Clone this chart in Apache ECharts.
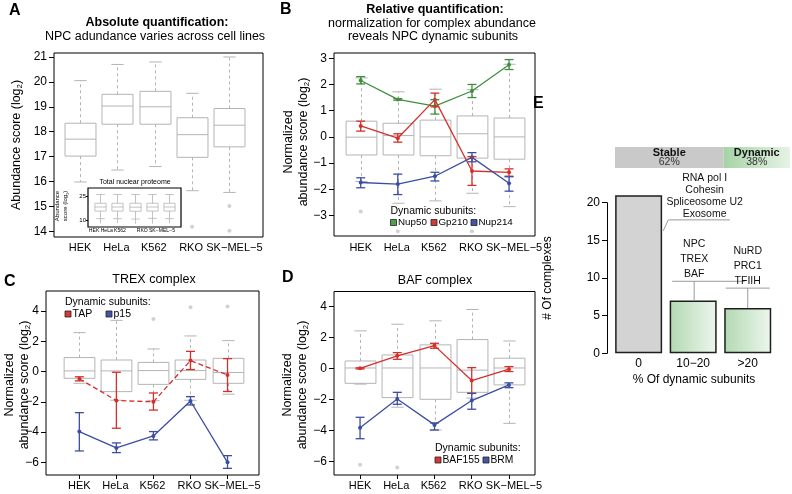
<!DOCTYPE html>
<html><head><meta charset="utf-8">
<script src="https://cdn.jsdelivr.net/npm/echarts@6/dist/echarts.min.js"></script>
<style>html,body{margin:0;padding:0;background:#fff}#c{width:792px;height:494px}</style>
</head><body><div id="c"></div>
<script>
// ---------------- DATA ----------------
const cellLines = ['HEK', 'HeLa', 'K562', 'RKO', 'SK−MEL−5'];

// Panel A: absolute NPC abundance (log2)
const aLow  = [15.98, 16.46, 16.60, 15.63, 15.56];
const aQ1   = [17.02, 18.30, 18.30, 16.97, 17.39];
const aMed  = [17.70, 19.03, 19.00, 17.88, 18.26];
const aQ3   = [18.34, 19.50, 19.62, 18.56, 18.93];
const aHigh = [20.05, 20.70, 20.80, 19.54, 21.00];
const aOutliers = [[4, 14.18], [5, 15.02], [5, 14.02]];
const aTicks = [14, 15, 16, 17, 18, 19, 20, 21];

// Panel A inset: total nuclear proteome
const insetLow  = [11.05, 11.05, 10.8, 11.2, 11.05];
const insetQ1   = [15.7, 15.7, 15.6, 15.7, 15.7];
const insetMed  = [18.2, 18.2, 18.1, 18.2, 18.2];
const insetQ3   = [20.5, 20.5, 20.5, 20.5, 20.5];
const insetHigh = [25.9, 25.9, 25.9, 25.9, 25.9];
const insetTail = [8.3, 8.3, 7.9, 8.0, 8.3];
const insetTicks = [10, 25];

// Panel B: normalized NPC
const bLow  = [-1.70, -2.53, -2.44, -2.15, -2.66];
const bQ1   = [-0.69, -0.69, -0.72, -0.81, -0.85];
const bMed  = [-0.01, 0.05, 0.00, 0.12, 0.00];
const bQ3   = [0.60, 0.52, 0.64, 0.80, 0.72];
const bHigh = [2.25, 1.72, 1.82, 1.80, 2.77];
const bOutliers = [[1, -2.85], [2, -3.6], [4, -3.6]];
const bTicks = [-3, -2, -1, 0, 1, 2, 3];
const nup50   = [2.15, 1.43, 1.17, 1.75, 2.75];
const nup50Lo = [2.02, 1.40, 0.87, 1.50, 2.57];
const nup50Hi = [2.30, 1.46, 1.42, 2.00, 2.95];
const gp210   = [0.42, -0.05, 1.42, -1.30, -1.35];
const gp210Lo = [0.22, -0.20, 1.15, -1.85, -1.50];
const gp210Hi = [0.60, 0.12, 1.67, -0.75, -1.22];
const nup214   = [-1.74, -1.80, -1.50, -0.78, -1.77];
const nup214Lo = [-1.94, -2.20, -1.68, -0.95, -2.07];
const nup214Hi = [-1.56, -1.42, -1.35, -0.60, -1.52];

// Panel C: TREX complex
const cLow  = [-0.78, -1.90, -1.93, -1.90, -1.50];
const cQ1   = [-0.45, -1.33, -0.85, -0.52, -0.78];
const cMed  = [0.04, 0.04, 0.06, 0.06, -0.07];
const cQ3   = [0.92, 0.76, 0.60, 0.76, 0.87];
const cHigh = [2.57, 3.38, 1.49, 2.35, 2.04];
const cOutliers = [[3, 3.47], [4, 4.24], [5, 4.29]];
const cdTicks = [-6, -4, -2, 0, 2, 4];
const tap   = [-0.48, -1.92, -2.00, 0.72, -0.23];
const tapLo = [-0.62, -3.75, -2.55, 0.13, -1.32];
const tapHi = [-0.35, -0.05, -1.42, 1.33, 0.85];
const p15   = [-3.97, -5.05, -4.26, -1.95, -6.00];
const p15Lo = [-5.25, -5.36, -4.52, -2.21, -6.40];
const p15Hi = [-2.72, -4.72, -3.97, -1.66, -5.56];

// Panel D: BAF complex
const dLow  = [-1.00, -2.49, -3.96, -1.90, -3.53];
const dQ1   = [-0.95, -1.87, -1.98, -1.53, -1.05];
const dMed  = [0.04, 0.04, 0.04, -0.10, 0.04];
const dQ3   = [0.49, 0.88, 1.53, 1.87, 0.67];
const dHigh = [2.43, 2.86, 3.08, 3.81, 1.78];
const dOutliers = [[1, -6.2], [2, -6.37]];
const baf155   = [0.02, 0.82, 1.48, -0.77, -0.04];
const baf155Lo = [-0.02, 0.60, 1.31, -1.60, -0.19];
const baf155Hi = [0.05, 1.03, 1.63, 0.06, 0.13];
const brm   = [-3.81, -1.96, -3.63, -2.06, -1.05];
const brmLo = [-4.52, -2.30, -3.96, -2.62, -1.23];
const brmHi = [-3.14, -1.53, -3.50, -1.59, -0.92];

// Panel E
const eCategories = ['0', '10−20', '>20'];
const eCounts = [21, 7, 6];
const eExamples = ['RNA pol I\nCohesin\nSpliceosome U2\nExosome', 'NPC\nTREX\nBAF', 'NuRD\nPRC1\nTFIIH'];
const eShareNames = ['Stable', 'Dynamic'];
const eShares = [62, 38];

// ---------------- STYLE ----------------
const FONT = "'Liberation Sans', Arial, Helvetica, sans-serif";
const BOXC = '#b4b4b4';
const GREEN = '#3f8f3f', RED = '#d3302c', BLUE = '#3b4ea2';
const GREY_DOT = '#c6c6c6';
const minusFmt = v => (v < 0 ? '−' + Math.abs(v) : String(v));
// pixel nudges of the category labels (style only)
const mainLabelShift = [0, -1, -1, -1, 5];
const insetLabelShift = [-6, -10.5, -14.5, -9.5, -7];

// ---------------- HELPERS ----------------
const boxData = (lo, q1, md, q3, hi, tail) => lo.map((v, i) => tail ? [i + 1, v, q1[i], md[i], q3[i], hi[i], tail[i]] : [i + 1, v, q1[i], md[i], q3[i], hi[i]]);
const errData = (lo, hi) => lo.map((v, i) => [i + 1, v, hi[i]]);
const lineData = vals => vals.map((v, i) => [i + 1, v]);

function boxRender(boxFrac, capFrac, dashed, lw) {
  return function (params, api) {
    const x = api.value(0);
    const pLow = api.coord([x, api.value(1)]);
    const pQ1 = api.coord([x, api.value(2)]);
    const pMed = api.coord([x, api.value(3)]);
    const pQ3 = api.coord([x, api.value(4)]);
    const pHigh = api.coord([x, api.value(5)]);
    const unit = api.size([1, 0])[0];
    const bw = unit * boxFrac / 2, cw = unit * capFrac / 2, cx = Math.round(pMed[0]) + 0.5;
    const solid = { stroke: BOXC, lineWidth: lw, fill: null };
    const wl = { stroke: BOXC, lineWidth: lw, lineDash: dashed ? [3, 3] : null };
    const kids = [
      { type: 'line', shape: { x1: cx, y1: pQ3[1], x2: cx, y2: pHigh[1] }, style: wl },
      { type: 'line', shape: { x1: cx, y1: pQ1[1], x2: cx, y2: pLow[1] }, style: wl },
      { type: 'line', shape: { x1: cx - cw, y1: pHigh[1], x2: cx + cw, y2: pHigh[1] }, style: solid },
      { type: 'line', shape: { x1: cx - cw, y1: pLow[1], x2: cx + cw, y2: pLow[1] }, style: solid },
      { type: 'rect', shape: { x: cx - bw, y: pQ3[1], width: 2 * bw, height: pQ1[1] - pQ3[1] }, style: { stroke: BOXC, lineWidth: lw, fill: 'rgba(255,255,255,0)' } },
      { type: 'line', shape: { x1: cx - bw, y1: pMed[1], x2: cx + bw, y2: pMed[1] }, style: solid }
    ];
    const t = api.value(6);
    if (typeof t === 'number' && isFinite(t)) {
      const pT = api.coord([x, t]);
      kids.push({ type: 'line', shape: { x1: cx, y1: pLow[1], x2: cx, y2: pT[1] }, style: solid });
    }
    return { type: 'group', children: kids };
  };
}

function errRender(color, capPx) {
  return function (params, api) {
    const x = api.value(0);
    const lo = api.coord([x, api.value(1)]);
    const hi = api.coord([x, api.value(2)]);
    const cx = lo[0], c = capPx / 2;
    const st = { stroke: color, lineWidth: 1.3 };
    return { type: 'group', children: [
      { type: 'line', shape: { x1: cx, y1: lo[1], x2: cx, y2: hi[1] }, style: st },
      { type: 'line', shape: { x1: cx - c, y1: lo[1], x2: cx + c, y2: lo[1] }, style: st },
      { type: 'line', shape: { x1: cx - c, y1: hi[1], x2: cx + c, y2: hi[1] }, style: st }
    ] };
  };
}

// category labels drawn at the axis positions of the categories
function labelSeries(gi, yMin, fs, gap, shifts) {
  return { type: 'custom', xAxisIndex: gi, yAxisIndex: gi, silent: true, z: 3, animation: false,
    data: cellLines.map((c, i) => [i + 1]),
    renderItem: function (params, api) {
      const i = params.dataIndex;
      const p = api.coord([api.value(0), yMin]);
      return { type: 'text', style: { text: cellLines[i], x: p[0] + shifts[i], y: p[1] + gap, fill: '#000', fontSize: fs, fontFamily: FONT,
        align: 'center', verticalAlign: 'middle', textAlign: 'center', textVerticalAlign: 'middle' } };
    } };
}

function xAx(gi, min, max, tickLen) {
  return { type: 'value', gridIndex: gi, min, max, axisLine: { show: false, onZero: false }, splitLine: { show: false },
    axisTick: { show: tickLen > 0, customValues: [1, 2, 3, 4, 5], length: tickLen, lineStyle: { color: '#000' } },
    axisLabel: { show: false } };
}
function yAx(gi, min, max, vals, fs, margin, tickLen) {
  return { type: 'value', gridIndex: gi, min, max, axisLine: { show: false, onZero: false }, splitLine: { show: false },
    axisTick: { show: true, customValues: vals, length: tickLen, lineStyle: { color: '#000' } },
    axisLabel: { customValues: vals, formatter: minusFmt, fontSize: fs, color: '#000', fontFamily: FONT, margin, hideOverlap: false, showMinLabel: true, showMaxLabel: true } };
}
const frame = (left, top, width, height, bw) => ({ left, top, width, height, show: true, borderColor: '#000', borderWidth: bw, backgroundColor: 'rgba(0,0,0,0)', containLabel: false });

function lineSeries(name, vals, color, gi, dashed) {
  return { type: 'line', name, xAxisIndex: gi, yAxisIndex: gi, data: lineData(vals), z: 5,
    symbol: 'circle', symbolSize: 4, itemStyle: { color }, lineStyle: { color, width: 1.3, type: dashed ? [5, 3] : 'solid' }, animation: false };
}
function errSeries(lo, hi, color, gi) {
  return { type: 'custom', xAxisIndex: gi, yAxisIndex: gi, data: errData(lo, hi), renderItem: errRender(color, 9), z: 6, animation: false };
}
function boxSeries(gi, d, boxFrac, capFrac, dashed, lw) {
  return { type: 'custom', xAxisIndex: gi, yAxisIndex: gi, data: d, renderItem: boxRender(boxFrac, capFrac, dashed, lw), z: 2, animation: false };
}
function outlierSeries(gi, pts) {
  return { type: 'scatter', xAxisIndex: gi, yAxisIndex: gi, data: pts, symbolSize: 4, itemStyle: { color: GREY_DOT }, z: 2, animation: false };
}

// ---------------- TEXT (graphic) ----------------
function txt(text, x, y, size, opt) {
  return Object.assign({ type: 'text', x, y, silent: true, style: Object.assign({ text, fill: '#000', fontSize: size, fontFamily: FONT,
    align: 'center', verticalAlign: 'middle', textAlign: 'center', textVerticalAlign: 'middle' }, (opt && opt.style) || {}) }, (opt && opt.el) || {});
}
function rotTitle(lines, x, y, size) {
  const rich = { n: { fontSize: size, fontFamily: FONT, fill: '#000', lineHeight: size + 2 }, s: { fontSize: size * 0.62, fontFamily: FONT, fill: '#000', verticalAlign: 'bottom', lineHeight: size * 0.62 + 1 } };
  return { type: 'text', x, y, rotation: Math.PI / 2, silent: true,
    style: { text: lines, rich, align: 'center', verticalAlign: 'middle', textAlign: 'center', textVerticalAlign: 'middle' } };
}
function legendItems(items, y, size) {
  const out = [];
  items.forEach(it => {
    out.push({ type: 'rect', shape: { x: it.sx, y: y - 3, width: 6, height: 6 }, style: { fill: it.color, stroke: '#222', lineWidth: 0.8 }, silent: true });
    out.push(txt(it.name, it.sx + 7.5, y, size, { style: { align: 'left', textAlign: 'left' } }));
  });
  return out;
}
const bold = { style: { fontWeight: 'bold' } };
const leftBold = { style: { fontWeight: 'bold', align: 'left', textAlign: 'left' } };
const leftPlain = { style: { align: 'left', textAlign: 'left' } };

const logTitle = '{n|abundance score (log}{s|2}{n|)}';
const graphics = [
  txt('A', 9, 11, 16, leftBold), txt('B', 280, 10, 16, leftBold), txt('C', 4, 282, 16, leftBold),
  txt('D', 282, 278, 16, leftBold), txt('E', 533, 104, 16, leftBold),
  txt('Absolute quantification:', 157, 23, 12.5, bold),
  txt('NPC adundance varies across cell lines', 155, 36.5, 12.5),
  txt('Relative quantification:', 435, 10, 12.5, bold),
  txt('normalization for complex abundance', 432, 24, 12.5),
  txt('reveals NPC dynamic subunits', 433, 37, 12.5),
  txt('TREX complex', 154, 280, 12.5),
  txt('BAF complex', 435, 281, 12.5),
  rotTitle('{n|Abundance score (log}{s|2}{n|)}', 17, 145, 12.5),
  rotTitle('{n|Normalized}\n' + logTitle, 296, 142, 12.5),
  rotTitle('{n|Normalized}\n' + logTitle, 17, 385, 12.5),
  rotTitle('{n|Normalized}\n' + logTitle, 295, 385, 12.5),
  // inset labels
  txt('Total nuclear proteome', 135, 182.5, 7),
  rotTitle('{n|Abundance}\n{n|score (log}{s|2}{n|)}', 61.5, 206, 6),
  // legends
  txt('Dynamic subunits:', 390.5, 211.5, 10.5, leftPlain),
  ...legendItems([{ name: 'Nup50', color: '#4f9f4f', sx: 390.5 }, { name: 'Gp210', color: '#d33a34', sx: 431 }, { name: 'Nup214', color: '#4156a8', sx: 471 }], 222.5, 9.8),
  txt('Dynamic subunits:', 65, 302, 10.5, leftPlain),
  ...legendItems([{ name: 'TAP', color: '#d33a34', sx: 65 }, { name: 'p15', color: '#4156a8', sx: 106 }], 314, 10.5),
  txt('Dynamic subunits:', 435, 448, 10.5, leftPlain),
  ...legendItems([{ name: 'BAF155', color: '#d33a34', sx: 435 }, { name: 'BRM', color: '#4156a8', sx: 483 }], 460, 10.3),
  // E axis titles
  txt('% Of dynamic subunits', 694, 380, 12),
  txt('# Of complexes', 548, 278, 12, { el: { rotation: Math.PI / 2 } })
];

// ---------------- PANEL E annotations ----------------
const eAnnotLayout = [
  { tx: 66, ty: -23, lh: 12, path: [[24.6, 35.7], [29.6, 24.7], [91.3, 24.7]] },
  { tx: 1, ty: -63.5, lh: 15, path: [[1, 0], [1, -19.3]], bar: [-21, 51.5, -19.3] },
  { tx: 0, ty: -64.2, lh: 15, path: [[0, 0], [0, -20]], bar: [-22, 22, -20] }
];
function annotRender(params, api) {
  const i = params.dataIndex;
  const L = eAnnotLayout[i];
  const top = api.coord([api.value(0), api.value(1)]);
  const st = { stroke: '#9a9a9a', lineWidth: 1, fill: null };
  const kids = [
    { type: 'polyline', shape: { points: L.path.map(p => [top[0] + p[0], top[1] + p[1]]) }, style: st },
    { type: 'text', style: { text: eExamples[i], x: top[0] + L.tx, y: top[1] + L.ty, fill: '#111', fontSize: 10.5, fontFamily: FONT,
      align: 'center', verticalAlign: 'top', textAlign: 'center', textVerticalAlign: 'top', lineHeight: L.lh } }
  ];
  if (L.bar) kids.push({ type: 'line', shape: { x1: top[0] + L.bar[0], y1: top[1] + L.bar[2], x2: top[0] + L.bar[1], y2: top[1] + L.bar[2] }, style: st });
  return { type: 'group', children: kids };
}

const greenGrad = { type: 'linear', x: 0, y: 0, x2: 1, y2: 0, colorStops: [{ offset: 0, color: '#b2d9b2' }, { offset: 1, color: '#edf6ed' }] };
const headGrad = { type: 'linear', x: 0, y: 0, x2: 1, y2: 0, colorStops: [{ offset: 0, color: '#a6d3a6' }, { offset: 1, color: '#e6f3e6' }] };

// axis ranges
const aRange = [13.77, 21.16], insetRange = [5.9, 29.9], bRange = [-3.78, 3.2], cRange = [-6.84, 5.32], dRange = [-6.86, 4.97];

// ---------------- OPTION ----------------
const option = {
  backgroundColor: '#fff',
  animation: false,
  textStyle: { fontFamily: FONT },
  grid: [
    frame(54, 53, 209, 184, 1),      // 0 A
    frame(88, 188, 93, 39, 1.2),     // 1 inset
    frame(334, 53, 201, 183, 1),     // 2 B
    frame(46, 291, 213, 184, 1),     // 3 C
    frame(334, 291.5, 201, 183.5, 1),// 4 D
    { left: 607, top: 202.7, width: 168, height: 150.6, show: false }, // 5 E
    { left: 615, top: 147, width: 175, height: 21, show: false }        // 6 E header
  ],
  xAxis: [
    xAx(0, 0.3, 5.9, 0),
    xAx(1, 0.3, 5.7, 0),
    xAx(2, 0.28, 5.7, 0),
    xAx(3, 0.1, 5.85, 4),
    xAx(4, 0.3, 5.7, 4),
    { type: 'value', gridIndex: 5, min: 0.42, max: 3.5, axisLine: { show: false, onZero: false }, axisTick: { show: false }, splitLine: { show: false },
      axisLabel: { customValues: [1, 2, 3], formatter: v => eCategories[Math.round(v) - 1], fontSize: 12, color: '#000', fontFamily: FONT, margin: 4, showMinLabel: true, showMaxLabel: true } },
    { type: 'value', gridIndex: 6, min: 0, max: 100, show: false }
  ],
  yAxis: [
    yAx(0, aRange[0], aRange[1], aTicks, 12, 7, 5),
    yAx(1, insetRange[0], insetRange[1], insetTicks, 6, 2, 2),
    yAx(2, bRange[0], bRange[1], bTicks, 12, 7, 5),
    yAx(3, cRange[0], cRange[1], cdTicks, 12, 7, 5),
    yAx(4, dRange[0], dRange[1], cdTicks, 12, 7, 5),
    { type: 'value', gridIndex: 5, min: 0, max: 20, interval: 5, splitLine: { show: false },
      axisLine: { show: true, onZero: false, lineStyle: { color: '#000', width: 1 } }, axisTick: { show: true, length: 5, lineStyle: { color: '#000' } },
      axisLabel: { fontSize: 12, color: '#000', fontFamily: FONT, margin: 7 } },
    { type: 'category', gridIndex: 6, data: ['share'], show: false }
  ],
  graphic: graphics,
  series: [
    // A
    boxSeries(0, boxData(aLow, aQ1, aMed, aQ3, aHigh), 0.83, 0.33, true, 1),
    outlierSeries(0, aOutliers),
    labelSeries(0, aRange[0], 11, 11, mainLabelShift),
    boxSeries(1, boxData(insetLow, insetQ1, insetMed, insetQ3, insetHigh, insetTail), 0.65, 0.5, false, 0.8),
    labelSeries(1, insetRange[0], 5.1, 3.8, insetLabelShift),
    // B
    boxSeries(2, boxData(bLow, bQ1, bMed, bQ3, bHigh), 0.83, 0.33, true, 1),
    outlierSeries(2, bOutliers),
    labelSeries(2, bRange[0], 11, 12, mainLabelShift),
    lineSeries('Nup50', nup50, GREEN, 2), errSeries(nup50Lo, nup50Hi, GREEN, 2),
    lineSeries('Gp210', gp210, RED, 2), errSeries(gp210Lo, gp210Hi, RED, 2),
    lineSeries('Nup214', nup214, BLUE, 2), errSeries(nup214Lo, nup214Hi, BLUE, 2),
    // C
    boxSeries(3, boxData(cLow, cQ1, cMed, cQ3, cHigh), 0.83, 0.33, true, 1),
    outlierSeries(3, cOutliers),
    labelSeries(3, cRange[0], 11, 10.5, mainLabelShift),
    lineSeries('TAP', tap, RED, 3, true), errSeries(tapLo, tapHi, RED, 3),
    lineSeries('p15', p15, BLUE, 3), errSeries(p15Lo, p15Hi, BLUE, 3),
    // D
    boxSeries(4, boxData(dLow, dQ1, dMed, dQ3, dHigh), 0.83, 0.33, true, 1),
    outlierSeries(4, dOutliers),
    labelSeries(4, dRange[0], 11, 10.5, mainLabelShift),
    lineSeries('BAF155', baf155, RED, 4), errSeries(baf155Lo, baf155Hi, RED, 4),
    lineSeries('BRM', brm, BLUE, 4), errSeries(brmLo, brmHi, BLUE, 4),
    // E bars
    { type: 'bar', xAxisIndex: 5, yAxisIndex: 5, barWidth: 47, clip: false, z: 2,
      data: eCounts.map((v, i) => ({ value: [i + 1, v], itemStyle: { color: i === 0 ? '#d3d3d3' : greenGrad } })),
      itemStyle: { borderColor: '#1e1e1e', borderWidth: 1.5 } },
    { type: 'custom', xAxisIndex: 5, yAxisIndex: 5, data: eCounts.map((v, i) => [i + 1, v]), renderItem: annotRender, z: 3 },
    // E header
    ...eShareNames.map((n, i) => ({ type: 'bar', name: n, xAxisIndex: 6, yAxisIndex: 6, stack: 'share', barWidth: '100%',
      data: [eShares[i]], itemStyle: { color: i === 0 ? '#c9c9c9' : headGrad },
      label: { show: true, position: 'inside', formatter: '{b|' + n + '}\n{p|' + eShares[i] + '%}',
        rich: { b: { fontWeight: 'bold', fontSize: 11, color: '#111', fontFamily: FONT, lineHeight: 10 }, p: { fontSize: 10.5, color: '#333', fontFamily: FONT, lineHeight: 10 } } } }))
  ]
};
const chart = echarts.init(document.getElementById('c'), null, { renderer: 'canvas' });
chart.setOption(option);
</script></body></html>
